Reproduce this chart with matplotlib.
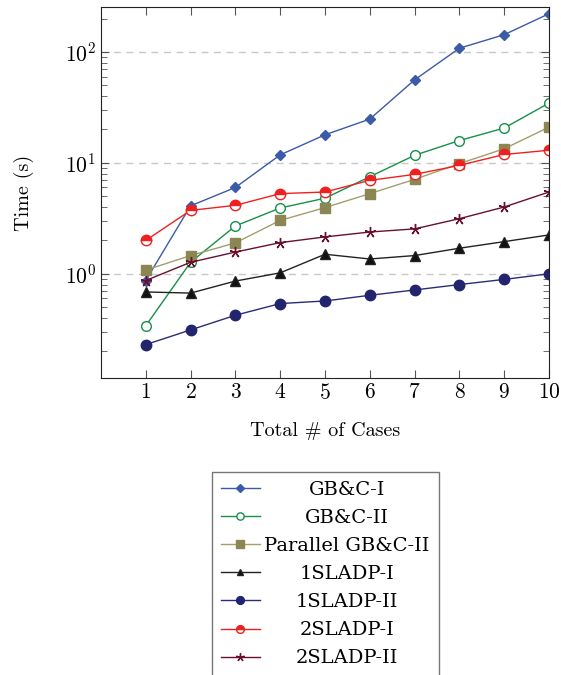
"""Runtime comparison of GB&C and SLADP variants on a log scale."""
import matplotlib

matplotlib.use("Agg")
import matplotlib.pyplot as plt
from matplotlib.ticker import LogLocator, NullFormatter

cases = [1, 2, 3, 4, 5, 6, 7, 8, 9, 10]

gbc_1 = [0.87, 4.1, 6.0, 11.8, 17.9, 24.8, 56.0, 108, 143, 221]
gbc_2 = [0.34, 1.27, 2.7, 3.92, 4.8, 7.5, 11.7, 15.9, 20.6, 34.6]
par_gbc_2 = [1.08, 1.46, 1.9, 3.03, 3.95, 5.28, 7.1, 9.85, 13.4, 21.0]
sladp1_1 = [0.686, 0.67, 0.86, 1.02, 1.5, 1.36, 1.46, 1.7, 1.95, 2.24]
sladp1_2 = [0.23, 0.312, 0.423, 0.539, 0.569, 0.64, 0.715, 0.80, 0.89, 1.0]
sladp2_1 = [2.0, 3.73, 4.14, 5.28, 5.46, 6.96, 7.87, 9.49, 11.9, 13.0]
sladp2_2 = [0.87, 1.27, 1.57, 1.91, 2.15, 2.38, 2.54, 3.14, 4.0, 5.46]

labels = ["GB&C-I", "GB&C-II", "Parallel GB&C-II", "1SLADP-I",
          "1SLADP-II", "2SLADP-I", "2SLADP-II"]

plt.rcParams["font.family"] = ["cmr10", "DejaVu Serif"]
plt.rcParams["mathtext.fontset"] = "cm"
plt.rcParams["axes.formatter.use_mathtext"] = True

fig = plt.figure(figsize=(5.61, 6.75), dpi=100)
ax = fig.add_axes([0.18, 0.44, 0.7986, 0.5496])

series = [
    (gbc_1, dict(color="#3b5aa8", marker="D", ms=5, mfc="#3b5aa8")),
    (gbc_2, dict(color="#17904a", marker="o", ms=7, mfc="white")),
    (par_gbc_2, dict(color="#a39f6a", marker="s", ms=7, mfc="#8c8752", mec="#8c8752")),
    (sladp1_1, dict(color="#222222", marker="^", ms=6.5, mfc="#111111")),
    (sladp1_2, dict(color="#2a2b7a", marker="o", ms=7.5, mfc="#23246e", mec="#23246e")),
    (sladp2_1, dict(color="#f02020", marker="o", ms=7.5, fillstyle="top",
                    mfc="#f02020", mfcalt="white", mec="#f02020")),
    (sladp2_2, dict(color="#6b0f2f", marker=(5, 2, 0), ms=8, mec="#6b0f2f")),
]

for (vals, style), lab in zip(series, labels):
    ax.plot(cases, vals, lw=1.0, mew=1.0, label=lab, **style)

ax.set_yscale("log")
ax.set_xlim(0, 10)
ax.set_ylim(0.115, 254)
ax.set_xticks(cases)
ax.yaxis.set_major_locator(LogLocator(base=10, numticks=10))
ax.yaxis.set_minor_locator(LogLocator(base=10, subs=range(2, 10), numticks=20))
ax.yaxis.set_minor_formatter(NullFormatter())
ax.grid(True, axis="y", which="major", ls=(0, (5, 4)), color="#c8c8c8", lw=1.0)
ax.tick_params(which="both", direction="in", top=True, right=True,
               labelsize=15.5, color="#555555")
ax.tick_params(which="major", length=6)
ax.tick_params(which="minor", length=4)
for sp in ax.spines.values():
    sp.set_color("#222222")

ax.set_xlabel("Total # of Cases", fontsize=14.5, labelpad=14)
ax.set_ylabel("Time (s)", fontsize=14.5, labelpad=22)

leg = fig.legend(
    loc="upper left", bbox_to_anchor=(212 / 561, 1 - 472 / 675),
    prop={"family": "DejaVu Serif", "size": 14}, fancybox=False,
    edgecolor="#777777", framealpha=1, handlelength=2.0, handletextpad=0.25,
    borderpad=0.45, labelspacing=0.52, borderaxespad=0, markerscale=0.75,
)
leg.get_frame().set_linewidth(1.0)

# center the legend texts in their column
fig.canvas.draw()
widths = [t.get_window_extent().width for t in leg.get_texts()]
w_max = max(widths)
for t, w in zip(leg.get_texts(), widths):
    t.set_position(((w_max - w) / 2, 0))

fig.savefig("out.png", dpi=100)
